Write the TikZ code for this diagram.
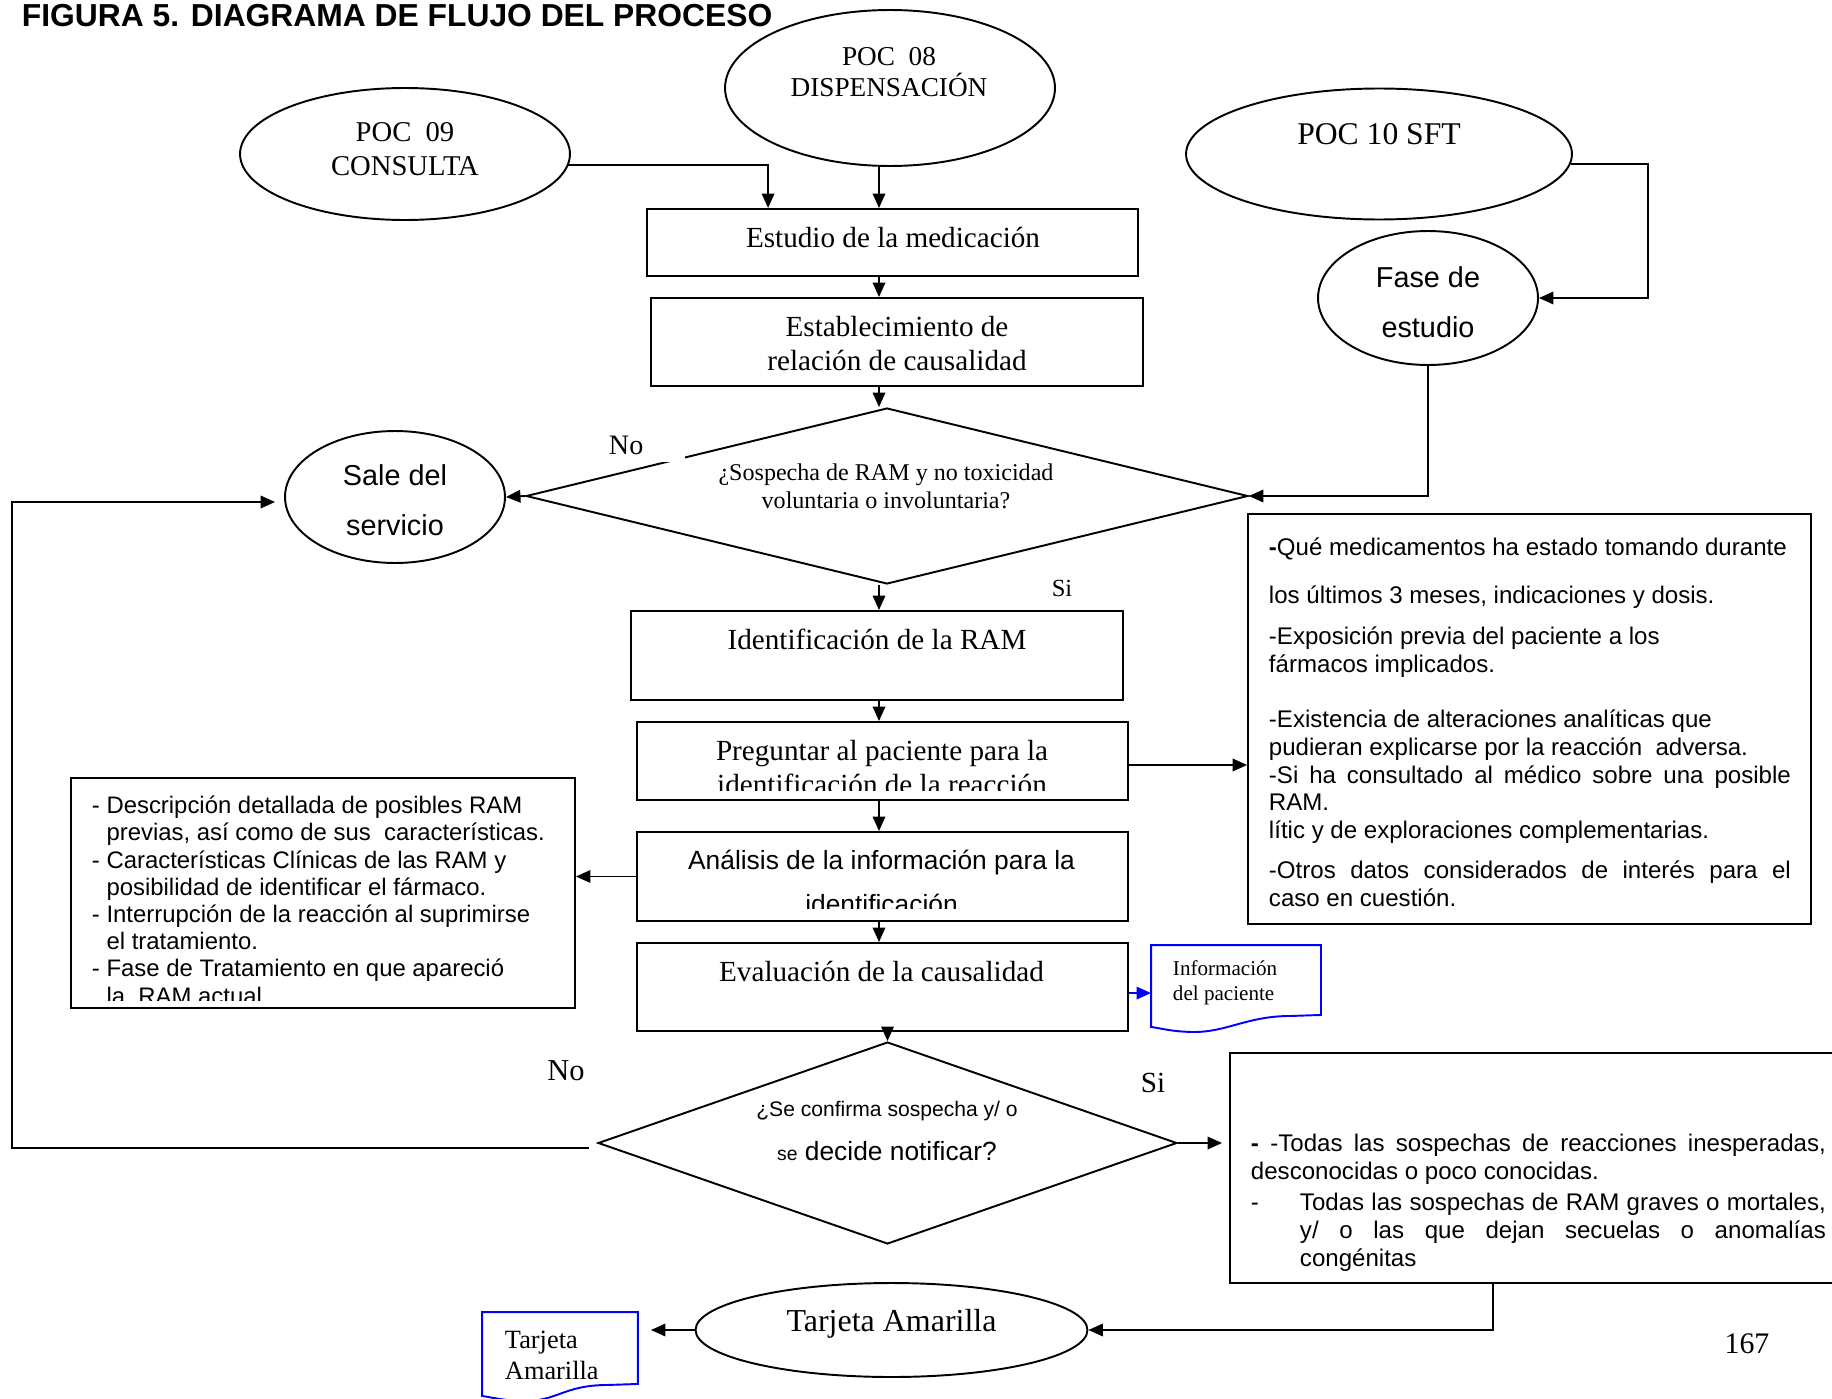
\documentclass[tikz,border=0pt]{standalone}
\usepackage{fontspec}
\setmainfont{Liberation Serif}
\setsansfont{Liberation Sans}
\usetikzlibrary{shapes.geometric,arrows.meta,calc}
\newcommand\fs[2]{\fontsize{#1}{#2}\selectfont}
\newcommand\drawdoc[1]{%
  \draw[docline] (#1.north west) -- (#1.north east) -- (#1.south east) -- ($(#1.south east)+(-30,1)$)
    .. controls ($(#1.south east)+(-75,1)$) and ($(#1.south west)+(75,18)$) .. ($(#1.south west)+(40,17)$)
    .. controls ($(#1.south west)+(20,16.5)$) and ($(#1.south west)+(8,13)$) .. ($(#1.south west)+(0,12)$) -- cycle;}
\begin{document}
\begin{tikzpicture}[x=0.02cm,y=-0.02cm,line width=1.1pt,
  box/.style={draw,rectangle,inner sep=0pt},
  oval/.style={draw,ellipse,inner sep=0pt},
  dec/.style={draw,diamond,inner sep=0pt},
  arr/.style={-{Triangle[length=0.29cm,width=0.25cm]}},
  barr/.style={arr,draw=blue,fill=blue},
  docline/.style={draw=blue},
  ser/.style={font={\fs{16.6}{19.8}},align=center,inner sep=0pt},
  sans/.style={font={\sffamily\fs{16.4}{28.3}},align=center,inner sep=0pt},
  para/.style={anchor=north west,align=left,inner sep=0pt}]
\fill[white] (0,0) rectangle (1832,1399);
\useasboundingbox (0,0) rectangle (1832,1399);
\clip (0,0) rectangle (1832,1399);

% title
\node[anchor=west,inner sep=0pt,font={\sffamily\bfseries\fs{18.1}{20}}] (title) at (21,16) {FIGURA 5. DIAGRAMA DE FLUJO DEL PROCESO};

% ellipses
\node[oval,minimum width=6.6cm,minimum height=3.12cm] (poc08) at (890,88) {};
\node[oval,minimum width=6.6cm,minimum height=2.64cm] (poc09) at (405,154) {};
\node[oval,minimum width=7.72cm,minimum height=2.62cm] (poc10) at (1379,154) {};
\node[oval,minimum width=4.4cm,minimum height=2.68cm] (fase) at (1428,298) {};
\node[oval,minimum width=4.4cm,minimum height=2.64cm] (sale) at (395,497) {};
\node[oval,minimum width=7.84cm,minimum height=1.88cm] (tarj) at (891.5,1330) {};

% boxes
\node[box,minimum width=9.82cm,minimum height=1.34cm] (estudio) at (892.5,242.5) {};
\node[box,minimum width=9.84cm,minimum height=1.76cm] (estab) at (897,342) {};
\node[box,minimum width=9.84cm,minimum height=1.78cm] (ident) at (877,655.5) {};
\node[box,minimum width=9.82cm,minimum height=1.56cm] (preg) at (882.5,761) {};
\node[box,minimum width=9.82cm,minimum height=1.78cm] (anal) at (882.5,876.5) {};
\node[box,minimum width=9.82cm,minimum height=1.76cm] (eval) at (882.5,987) {};
\node[box,minimum width=10.08cm,minimum height=4.6cm] (lbox) at (323,893) {};
\node[box,minimum width=11.26cm,minimum height=8.2cm] (rbox1) at (1529.5,719) {};
\node[box,minimum width=12.2cm,minimum height=4.6cm] (rbox2) at (1535,1168) {};
\node[inner sep=0pt,minimum width=3.36cm,minimum height=1.36cm] (info) at (1236,980) {};
\node[inner sep=0pt,minimum width=3.08cm,minimum height=1.4cm] (tdoc) at (560,1348) {};
\drawdoc{info}
\drawdoc{tdoc}

% decisions
\node[dec,minimum width=14.44cm,minimum height=3.52cm] (dec1) at (887,496) {};
\node[dec,minimum width=11.58cm,minimum height=4.04cm] (dec2) at (887.5,1143) {};

% texts
\node[ser,font={\fs{15.5}{17.6}}] (t08) at (889,72.5) {POC\ \ 08\\DISPENSACIÓN};
\node[ser,font={\fs{16.3}{19.3}}] (t09) at (405,149) {POC\ \ 09\\CONSULTA};
\node[ser,font={\fs{18}{20}}] (t10) at (1379,134) {POC 10 SFT};
\node[sans] (tfase) at (1428,302) {Fase de\\estudio};
\node[sans] (tsale) at (395,500) {Sale del\\servicio};
\node[ser,font={\fs{18.2}{20}}] (ttarj) at (891.5,1324) {Tarjeta Amarilla};
\node[ser] (testudio) at (893,238) {Estudio de la medicación};
\node[ser] (testab) at (897,343.5) {Establecimiento de\\relación de causalidad};
\node[ser] (tident) at (877,639) {Identificación de la RAM};
\begin{scope}
\clip (preg.north west) rectangle ($(preg.south east)+(0,-10)$);
\node[ser,font={\fs{16.6}{18.9}}] (tpreg) at (882,767.5) {Preguntar al paciente para la\\identificación de la reacción};
\end{scope}
\begin{scope}
\clip (anal.north west) rectangle ($(anal.south east)+(0,-13)$);
\node[sans,font={\sffamily\fs{15}{25.5}}] (tanal) at (881.5,882) {Análisis de la información para la\\identificación};
\end{scope}
\node[ser] (teval) at (881.5,971) {Evaluación de la causalidad};
\node[ser,font={\fs{13.7}{15.9}}] (tdec1) at (886,486) {¿Sospecha de RAM y no toxicidad\\voluntaria o involuntaria?};
\node[inner sep=0pt,font={\sffamily\fs{12}{14}}] (tdec2a) at (887,1111) {¿Se confirma sospecha y/ o};
\node[inner sep=0pt,font={\sffamily\fs{15}{17}}] (tdec2b) at (887,1151) {{\fs{11}{13}se} decide notificar?};
\node[anchor=west,align=left,inner sep=0pt,font={\fs{12}{14.2}}] (tinfo) at (1172,982.5) {Información\\del paciente};
\node[anchor=west,align=left,inner sep=0pt,font={\fs{15}{17.6}}] (ttdoc) at (504,1355.5) {Tarjeta\\Amarilla};

% labels
\node[fill=white,inner sep=0pt,text width=1.52cm,minimum height=0.66cm,anchor=north west,font={\fs{16}{18}}] (no1) at (608,428) {No};
\node[inner sep=0pt,font={\fs{14}{16}}] (si1) at (1062,588) {Si};
\node[inner sep=0pt,font={\fs{17.3}{19}}] (no2) at (566,1071) {No};
\node[inner sep=0pt,font={\fs{16.6}{19}}] (si2) at (1153,1083) {Si};
\node[inner sep=0pt,font={\fs{17}{19}}] (pg) at (1747,1344) {167};

% left box text
\begin{scope}
\clip (lbox.north west) rectangle ($(lbox.south east)+(0,-8)$);
\node[para,font={\sffamily\fs{13.6}{15.5}}] (tl) at (91,795) {- Descripción detallada de posibles RAM\\
\phantom{- }previas, así como de sus\ \ características.\\
- Características Clínicas de las RAM y\\
\phantom{- }posibilidad de identificar el fármaco.\\
- Interrupción de la reacción al suprimirse\\
\phantom{- }el tratamiento.\\
- Fase de Tratamiento en que apareció\\
\phantom{- }la\ \ RAM actual};
\end{scope}

% right box 1 text
\node[para,font={\sffamily\fs{13.7}{15.9}}] (tr1) at (1268,537) {\textbf{-}Qué medicamentos ha estado tomando durante\\[11.3pt]
los últimos 3 meses, indicaciones y dosis.\\[7.4pt]
-Exposición previa del paciente a los\\
fármacos implicados.\\[15.3pt]
-Existencia de alteraciones analíticas que\\
pudieran explicarse por la reacción\ \ adversa.\\
\makebox[10.44cm][s]{-Si ha consultado al médico sobre una posible}\\
RAM.\\
lític y de exploraciones complementarias.\\[6.8pt]
\makebox[10.44cm][s]{-Otros datos considerados de interés para el}\\
caso en cuestión.};

% right box 2 text
\node[para,font={\sffamily\fs{13.7}{15.9}}] (tr2) at (1250,1133) {\makebox[11.5cm][s]{\textbf{-} -Todas las sospechas de reacciones inesperadas,}\\
desconocidas o poco conocidas.\\[1.7pt]
\makebox[0.98cm][l]{-}\makebox[10.52cm][s]{Todas las sospechas de RAM graves o mortales,}\\
\hspace*{0.98cm}\makebox[10.52cm][s]{y/ o las que dejan secuelas o anomalías}\\
\hspace*{0.98cm}congénitas};

% connectors
\coordinate (colx) at (879,0);
\coordinate (infoin) at ($(info.north west)+(0,48)$);
\coordinate (pregout) at ($(preg.east)+(0,4)$);
\draw[arr] (poc09.-4) -| ($(estudio.north west)+(122,0)$);
\draw[arr] (poc08.south -| colx) -- (estudio.north -| colx);
\draw[arr] (estudio.south -| colx) -- (estab.north -| colx);
\draw[arr] (estab.south -| colx) -- (dec1.north -| colx);
\draw[arr] (dec1.south -| colx) -- (ident.north -| colx);
\draw[arr] (ident.south -| colx) -- (preg.north -| colx);
\draw[arr] (preg.south -| colx) -- (anal.north -| colx);
\draw[arr] (anal.south -| colx) -- (eval.north -| colx);
\draw[arr] (eval.south -| dec2.north) -- (dec2.north);
\draw[arr] (dec1.west) -- (sale.east);
\draw[arr] (fase.south) |- (dec1.east);
\draw[arr] (poc10.-3) -- ++(77,0) |- (fase.east);
\draw[arr] (pregout) -- (pregout -| rbox1.west);
\draw[arr] (anal.west) -- (anal.west -| lbox.east);
\draw[barr] (eval.east |- infoin) -- (infoin);
\draw[arr] (dec2.east) -- ($(rbox2.west |- dec2.east)+(-7,0)$);
\draw[arr] ($(rbox2.south west)+(264,0)$) |- (tarj.east);
\draw[arr] (tarj.west) -- ($(tdoc.east |- tarj.west)+(13,0)$);
\draw[arr] ($(dec2.west)+(-8,5)$) -- ++(-577,0) |- ($(sale.west)+(-9,5)$);
\end{tikzpicture}
\end{document}
